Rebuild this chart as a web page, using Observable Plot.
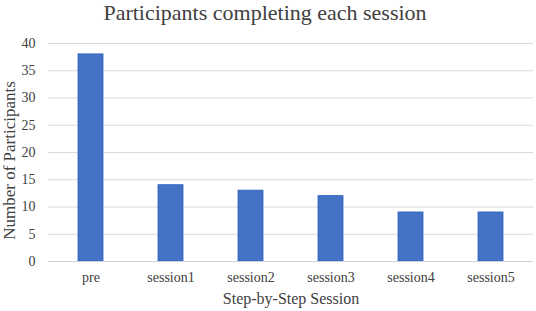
<!DOCTYPE html>
<html>
<head>
<meta charset="utf-8">
<script src="https://cdn.jsdelivr.net/npm/d3@7"></script>
<script src="https://cdn.jsdelivr.net/npm/@observablehq/plot@0.6"></script>
<style>
  html, body { margin: 0; padding: 0; background: #fff; }
  #chart svg { display: block; }
  #chart svg, #chart svg text { font-family: 'Liberation Serif', 'Times New Roman', serif !important; }
</style>
</head>
<body>
<div id="chart"></div>
<script>
const categories = ["pre", "session1", "session2", "session3", "session4", "session5"];
const participants = [38, 14, 13, 12, 9, 9];
const yTicks = [0, 5, 10, 15, 20, 25, 30, 35, 40];
const titleText = "Participants completing each session";
const xLabel = "Step-by-Step Session";
const yLabel = "Number of Participants";

const data = categories.map((c, i) => ({session: c, count: participants[i]}));
const textColor = "#404040";
const serif = "'Liberation Serif', 'Times New Roman', serif";

const plot = Plot.plot({
  width: 536,
  height: 311,
  marginTop: 43,
  marginBottom: 50,
  marginLeft: 48,
  marginRight: 3,
  style: {fontFamily: serif, color: textColor, background: "#fff"},
  x: {domain: categories, paddingInner: 0.69, paddingOuter: 0.345, label: null},
  y: {domain: [0, 40], label: null},
  marks: [
    Plot.gridY(yTicks, {stroke: "#d9d9d9", strokeOpacity: 1, strokeWidth: 1}),
    Plot.barY(data, {x: "session", y: "count", fill: "#4472C4", stroke: "#2f5fbf", strokeWidth: 0.8}),
    Plot.ruleY([0], {stroke: "#d0d0d0", strokeWidth: 1}),
    Plot.axisY(yTicks, {tickSize: 0, tickPadding: 13, fontSize: 14, fontFamily: serif, label: null, fill: textColor}),
    Plot.axisX({tickSize: 0, tickPadding: 11, fontSize: 14, fontFamily: serif, label: null, fill: textColor}),
    Plot.text([titleText], {frameAnchor: "top", dx: -26, dy: -31, fontSize: 22, fontFamily: serif, fill: textColor, lineAnchor: "middle", textAnchor: "middle"}),
    Plot.text([xLabel], {frameAnchor: "bottom", dy: 37, fontSize: 16, fontFamily: serif, fill: textColor, lineAnchor: "middle", textAnchor: "middle"}),
    Plot.text([yLabel], {frameAnchor: "left", dx: -39, dy: 8, rotate: -90, fontSize: 17, fontFamily: serif, fill: textColor, lineAnchor: "middle", textAnchor: "middle"})
  ]
});
document.getElementById("chart").appendChild(plot);
</script>
</body>
</html>
